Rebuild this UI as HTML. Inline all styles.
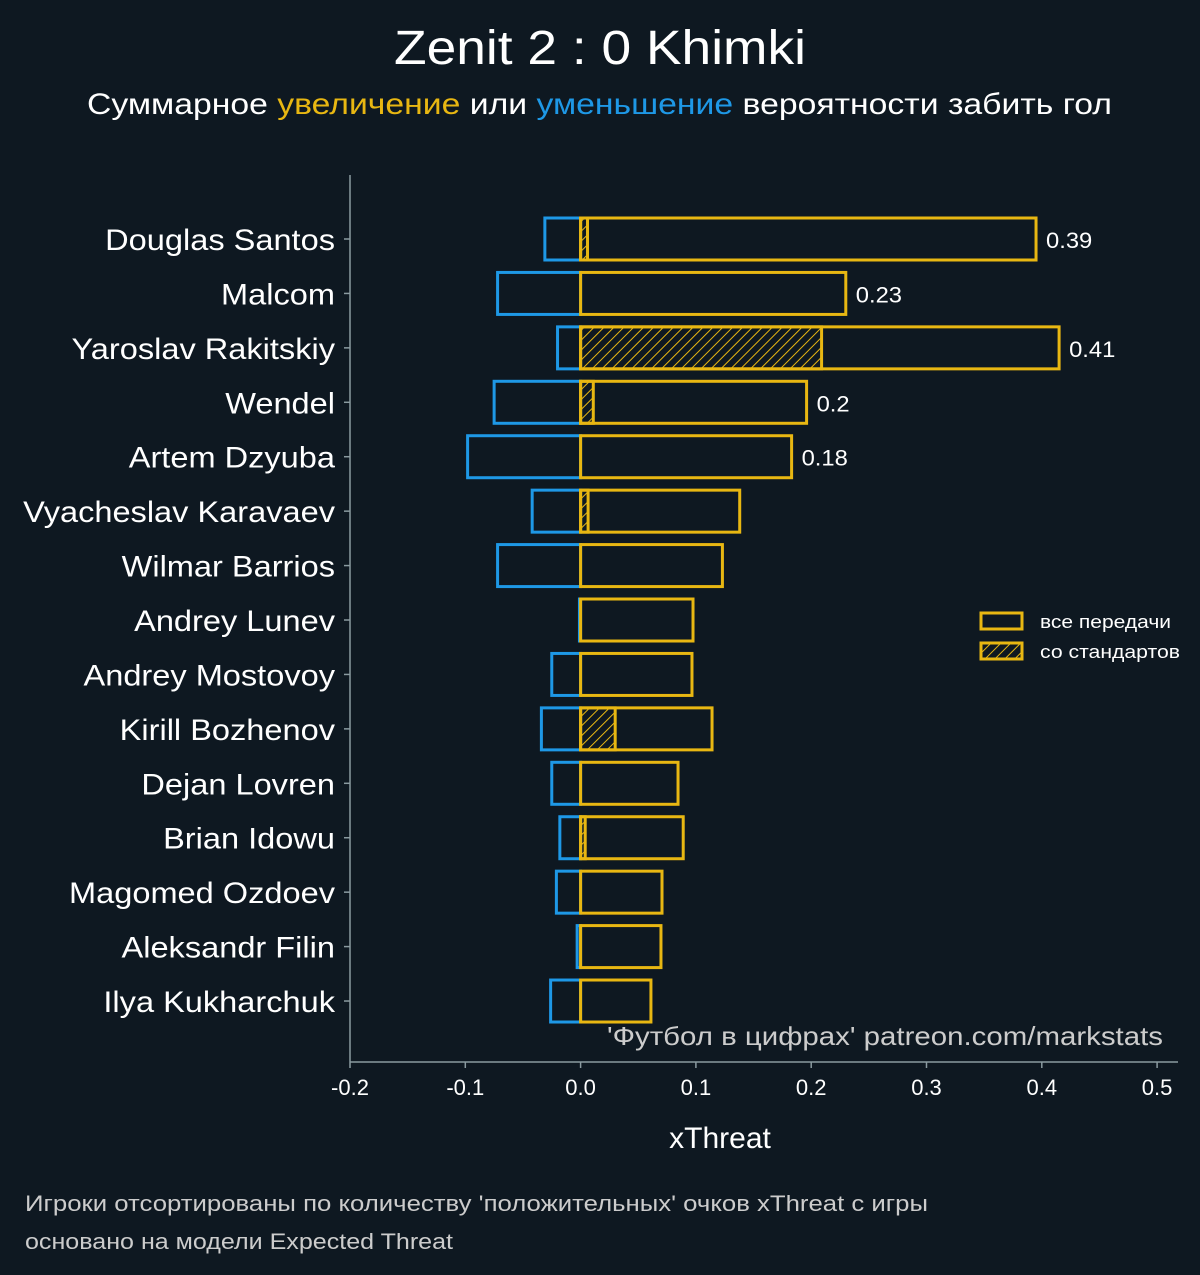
<!DOCTYPE html>
<html><head><meta charset="utf-8"><style>
body{margin:0;background:#0e1821;}
svg{display:block;font-family:"Liberation Sans","DejaVu Sans",sans-serif;}
</style></head><body>
<svg id="chart" width="1200" height="1275" viewBox="0 0 1200 1275">
<defs>
<pattern id="hatch" patternUnits="userSpaceOnUse" width="7" height="7" patternTransform="rotate(45)">
<line x1="0" y1="0" x2="0" y2="7" stroke="#e8b712" stroke-width="2"/>
</pattern>
</defs>
<rect width="1200" height="1275" fill="#0e1821"/>
<text x="394" y="64" textLength="412" lengthAdjust="spacingAndGlyphs" fill="#fff" font-size="48">Zenit 2 : 0 Khimki</text>
<text x="87" y="114" textLength="1025" lengthAdjust="spacingAndGlyphs" fill="#fff" font-size="30">Суммарное <tspan fill="#e8b712">увеличение</tspan> или <tspan fill="#1e98e6">уменьшение</tspan> вероятности забить гол</text>
<g id="plot"></g>
<line x1="350" y1="175" x2="350" y2="1062" stroke="#8a9aa0" stroke-width="1.5"/>
<line x1="350" y1="1062" x2="1178" y2="1062" stroke="#8a9aa0" stroke-width="1.5"/>
<text x="720" y="1148" text-anchor="middle" fill="#fff" font-size="30">xThreat</text>
<text x="607" y="1045" textLength="556" lengthAdjust="spacingAndGlyphs" fill="#cccccc" font-size="26">'Футбол в цифрах' patreon.com/markstats</text>
<g>
<rect x="981" y="613" width="41" height="16" fill="none" stroke="#e8b712" stroke-width="3"/>
<text x="1040" y="628" textLength="131" lengthAdjust="spacingAndGlyphs" fill="#fff" font-size="18">все передачи</text>
<rect x="981" y="643" width="41" height="16" fill="url(#hatch)" stroke="#e8b712" stroke-width="3"/>
<text x="1040" y="658" textLength="140" lengthAdjust="spacingAndGlyphs" fill="#fff" font-size="18">со стандартов</text>
</g>
<text x="25" y="1211" textLength="903" lengthAdjust="spacingAndGlyphs" fill="#cccccc" font-size="22">Игроки отсортированы по количеству 'положительных' очков xThreat с игры</text>
<text x="25" y="1249" textLength="428" lengthAdjust="spacingAndGlyphs" fill="#cccccc" font-size="22">основано на модели Expected Threat</text>
</svg>
<script>
const players = ["Douglas Santos","Malcom","Yaroslav Rakitskiy","Wendel","Artem Dzyuba","Vyacheslav Karavaev","Wilmar Barrios","Andrey Lunev","Andrey Mostovoy","Kirill Bozhenov","Dejan Lovren","Brian Idowu","Magomed Ozdoev","Aleksandr Filin","Ilya Kukharchuk"];
const positiveValues = [0.395,0.230,0.415,0.196,0.183,0.138,0.123,0.0975,0.0966,0.114,0.0845,0.089,0.0706,0.0697,0.061];
const negativeValues = [-0.031,-0.072,-0.020,-0.075,-0.098,-0.042,-0.072,-0.001,-0.025,-0.034,-0.025,-0.018,-0.021,-0.003,-0.026];
const setPieceValues = [0.006,0,0.209,0.011,0,0.0065,0,0,0,0.030,0,0.004,0,0,0];
const valueLabels = ["0.39","0.23","0.41","0.2","0.18"];
const xTicks = [-0.2,-0.1,0.0,0.1,0.2,0.3,0.4,0.5];
const xTickLabels = ["-0.2","-0.1","0.0","0.1","0.2","0.3","0.4","0.5"];

const NS="http://www.w3.org/2000/svg";
const g=document.getElementById('plot');
const xs=v=>580.6+v*1153;
const ys=i=>239+i*54.43;
const bh=42;
function mk(t,a){const e=document.createElementNS(NS,t);for(const k in a)e.setAttribute(k,a[k]);g.appendChild(e);return e;}

xTicks.forEach((v,i)=>{
  const t=mk('line',{x1:xs(v),x2:xs(v),y1:1062,y2:1068,stroke:'#8a9aa0','stroke-width':1.5});
  
  
  const l=mk('text',{x:xs(v),y:1095,'text-anchor':'middle',fill:'#fff','font-size':22});
  l.textContent=xTickLabels[i];
  
  
});

players.forEach((p,i)=>{
  const y=ys(i);
  const tk=mk('line',{x1:344,x2:350,y1:y,y2:y,stroke:'#8a9aa0','stroke-width':1.5});
  
  
  const lb=mk('text',{x:335,y:y+11,'text-anchor':'end',fill:'#fff','font-size':30});
  lb.textContent=p;
  
  
  const w=lb.getComputedTextLength();
  lb.setAttribute('textLength',w*1.085);
  lb.setAttribute('lengthAdjust','spacingAndGlyphs');
  const n=negativeValues[i];
  const nb=mk('rect',{x:xs(n),y:y-bh/2,width:Math.max(xs(0)-xs(n),0.5),height:bh,fill:'none',stroke:'#1e98e6','stroke-width':3});
  
  
  const pv=positiveValues[i];
  const pb=mk('rect',{x:xs(0),y:y-bh/2,width:xs(pv)-xs(0),height:bh,fill:'none',stroke:'#e8b712','stroke-width':3});
  
  
  const s=setPieceValues[i];
  if(s>0){
    const sb=mk('rect',{x:xs(0),y:y-bh/2,width:xs(s)-xs(0),height:bh,fill:'url(#hatch)',stroke:'#e8b712','stroke-width':3});
    
    
  }
  if(i<valueLabels.length){
    const vl=mk('text',{x:xs(pv)+10,y:y+9,fill:'#fff','font-size':22});
    vl.textContent=valueLabels[i];
    
    
    const vw=vl.getComputedTextLength();
    vl.setAttribute('textLength',vw*1.08);
    vl.setAttribute('lengthAdjust','spacingAndGlyphs');
  }
});
</script>
</body></html>
